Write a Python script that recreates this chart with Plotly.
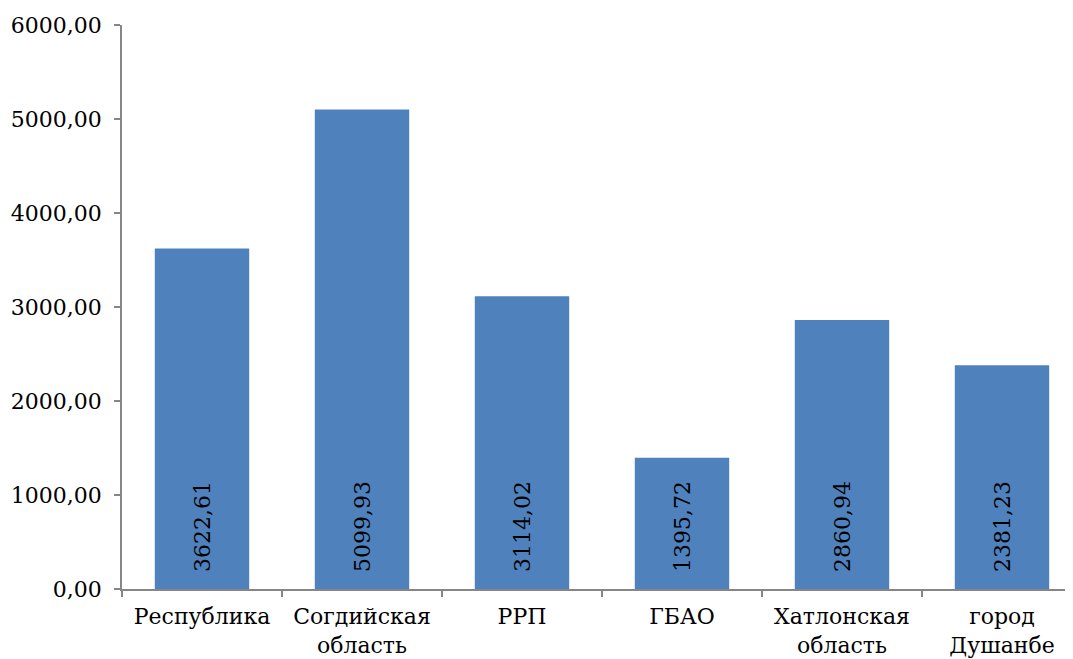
import plotly.graph_objects as go

categories = ["Республика", "Согдийская<br>область", "РРП", "ГБАО", "Хатлонская<br>область", "город<br>Душанбе"]
values = [3622.61, 5099.93, 3114.02, 1395.72, 2860.94, 2381.23]
y_ticks = [0, 1000, 2000, 3000, 4000, 5000, 6000]

FONT = "DejaVu Serif"
FS = 22
AXIS = "#868686"

fig = go.Figure(go.Bar(
    x=categories,
    y=values,
    marker=dict(color="#4F81BD", line=dict(width=0)),
    texttemplate="\u00a0\u00a0%{y:.2f}",
    textposition="inside",
    insidetextanchor="start",
    textangle=-90,
    textfont=dict(family=FONT, size=FS, color="black"),
    cliponaxis=False,
))

# page body has an 8px offset
W, H = 1065, 651
plot_left = 114
cat_px = 160
fig.update_layout(
    width=W, height=H,
    margin=dict(l=plot_left, r=0, t=17, b=70, pad=0),
    paper_bgcolor="white", plot_bgcolor="white",
    separators=", ",
    bargap=0.41,
    showlegend=False,
    font=dict(family=FONT, size=FS, color="black"),
    xaxis=dict(
        type="category",
        automargin=False,
        range=[-0.5, -0.5 + (W - plot_left) / cat_px],
        showline=True, linecolor=AXIS, linewidth=1.5,
        ticks="outside", tickson="boundaries", ticklen=6, tickcolor=AXIS, tickwidth=1.5,
        ticklabelstandoff=7,
        showgrid=False, zeroline=False,
        tickfont=dict(family=FONT, size=FS, color="black"),
    ),
    yaxis=dict(
        automargin=False,
        range=[0, 6000],
        tickvals=y_ticks,
        tickformat=".2f",
        showline=True, linecolor=AXIS, linewidth=1.5,
        ticks="outside", ticklen=6, tickcolor=AXIS, tickwidth=1.5,
        ticklabelstandoff=8,
        showgrid=False, zeroline=False,
        tickfont=dict(family=FONT, size=FS, color="black"),
    ),
)

fig.write_html("out.html")
